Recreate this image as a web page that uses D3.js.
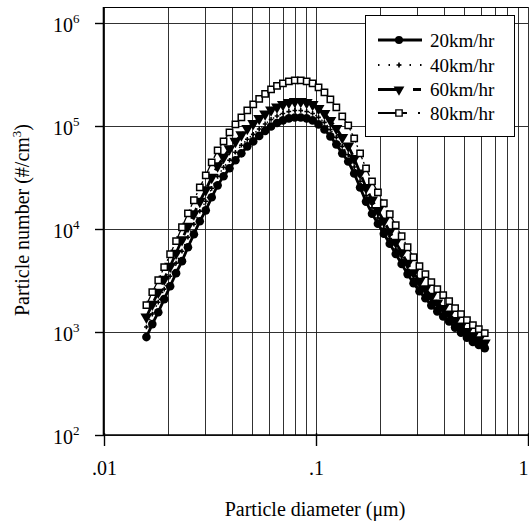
<!DOCTYPE html>
<html><head><meta charset="utf-8">
<script src="https://cdn.jsdelivr.net/npm/d3@7"></script>
<style>body{margin:0;background:#fff}</style>
</head><body>
<svg id="c" width="529" height="532"></svg>
<script>
// ---- data ----
const diameters = [0.01585,0.01690,0.01803,0.01923,0.02051,0.02188,0.02333,0.02489,0.02655,0.02831,
  0.03020,0.03221,0.03436,0.03664,0.03908,0.04169,0.04446,0.04742,0.05058,0.05395,
  0.05754,0.06138,0.06546,0.06982,0.07447,0.07943,0.08472,0.09036,0.09638,0.1028,
  0.1096,0.1169,0.1247,0.1330,0.1419,0.1514,0.1614,0.1722,0.1837,0.1959,
  0.2089,0.2228,0.2377,0.2535,0.2704,0.2884,0.3076,0.3281,0.3499,0.3733,
  0.3981,0.4246,0.4529,0.4831,0.5152,0.5495,0.5861,0.6252];
const n20 = [885,1183,1545,2068,2763,3702,4844,6613,8855,11840,
  15100,20210,26420,32330,38670,46260,54090,63210,70660,79880,
  89370,98760,106800,113100,118200,120800,120800,118200,113100,103400,
  92430,79010,66120,54060,45090,34400,25180,18360,14010,11180,
  8928,7136,5691,4542,3623,2957,2473,2109,1801,1572,
  1401,1253,1094,976,871,794,741,691];
const n40 = [1108,1481,1934,2589,3458,4633,6055,8266,11070,14790,
  18470,24720,32320,39550,46280,55370,64740,73970,82630,93410,
  104500,115500,124900,132200,138200,141300,141300,138200,132200,120900,
  108100,92390,77310,63210,52510,39890,28990,21050,15990,12700,
  10090,8016,6365,5056,4016,3263,2711,2307,1961,1704,
  1512,1343,1167,1036,921,836,778,723];
const n60 = [1385,1851,2417,3236,4322,5791,7828,10570,13990,18490,
  23900,31620,40900,49500,59830,70790,81840,94600,105800,118200,
  130700,142900,152800,161700,169000,172800,172800,169000,161700,147800,
  132200,113000,94560,77310,63940,48240,34890,25160,19040,15020,
  11890,9377,7411,5862,4624,3740,3087,2609,2208,1905,
  1684,1485,1285,1136,1003,906,836,774];
const n80 = [1810,2420,3160,4230,5650,7570,10350,14130,18920,25290,
  33050,44230,57810,70750,86500,103500,121000,141400,161700,182800,
  204500,226000,244500,258700,270400,276500,276500,270400,258700,236500,
  211500,180800,151300,123700,101100,75600,54080,38650,28910,22600,
  17690,13830,10810,8455,6610,5287,4325,3615,3025,2587,
  2261,1977,1691,1479,1294,1156,1057,967];
const seriesNames = ["20km/hr","40km/hr","60km/hr","80km/hr"];
const xTickValues = [0.01, 0.1, 1];
const xTickLabels = [".01", ".1", "1"];
const yTickValues = [1e2, 1e3, 1e4, 1e5, 1e6];
const yTickExponents = ["2","3","4","5","6"];

// ---- drawing ----
const svg = d3.select("#c");
const FONT = "'Liberation Serif','Times New Roman',serif";
const plotTop = 7, plotBottom = 435, plotLeft = 104, plotRight = 528;
const x = d3.scaleLog().domain([0.01, 1]).range([plotLeft, plotRight]);
const y = d3.scaleLog().domain([100, 1e6]).range([434.5, 23]);

svg.append("rect").attr("width",529).attr("height",532).attr("fill","#fff");

// vertical grid (all log ticks)
svg.append("g").selectAll("line").data(x.ticks()).join("line")
  .attr("x1", d => Math.round(x(d)) + 0.5).attr("x2", d => Math.round(x(d)) + 0.5)
  .attr("y1", plotTop).attr("y2", plotBottom)
  .attr("stroke", "#1a1a1a").attr("stroke-width", 0.9);
// horizontal grid (decades)
svg.append("g").selectAll("line").data(yTickValues).join("line")
  .attr("x1", plotLeft).attr("x2", plotRight)
  .attr("y1", d => Math.round(y(d)) + 0.5).attr("y2", d => Math.round(y(d)) + 0.5)
  .attr("stroke", "#1a1a1a").attr("stroke-width", 0.9);
// frame
svg.append("line").attr("x1",plotLeft).attr("x2",plotRight).attr("y1",plotTop+0.5).attr("y2",plotTop+0.5).attr("stroke","#000").attr("stroke-width",1);
svg.append("line").attr("x1",plotLeft-0.5).attr("x2",plotLeft-0.5).attr("y1",plotTop).attr("y2",plotBottom+1).attr("stroke","#000").attr("stroke-width",1.6);
svg.append("line").attr("x1",plotLeft-1).attr("x2",plotRight+1).attr("y1",plotBottom).attr("y2",plotBottom).attr("stroke","#000").attr("stroke-width",1.6);

// y ticks & labels
const yAxisG = svg.append("g");
yTickValues.forEach((v, i) => {
  const yy = Math.round(y(v)) + 0.5;
  yAxisG.append("line").attr("x1", 95).attr("x2", plotLeft).attr("y1", yy).attr("y2", yy)
    .attr("stroke", "#000").attr("stroke-width", 1.4);
  const t = yAxisG.append("text").attr("x", 53).attr("y", yy + 8)
    .attr("font-family", FONT).attr("font-size", 20).attr("fill", "#000");
  t.append("tspan").text("10");
  t.append("tspan").attr("font-size", 13).attr("dy", -9).text(yTickExponents[i]);
});
// x ticks & labels
const xAxisG = svg.append("g");
xTickValues.forEach((v, i) => {
  const xx = Math.round(x(v)) + 0.5;
  xAxisG.append("line").attr("x1", xx).attr("x2", xx).attr("y1", plotBottom - 2).attr("y2", 446)
    .attr("stroke", "#000").attr("stroke-width", 1.4);
  const last = i === xTickValues.length - 1;
  xAxisG.append("text").attr("x", last ? 528.5 : xx).attr("y", 475)
    .attr("text-anchor", last ? "end" : "middle")
    .attr("font-family", FONT).attr("font-size", 20).attr("fill", "#000").text(xTickLabels[i]);
});

// axis titles
svg.append("text").attr("x", 315).attr("y", 516).attr("text-anchor", "middle")
  .attr("font-family", FONT).attr("font-size", 20).attr("fill", "#000")
  .text("Particle diameter (\u03bcm)");
const yt = svg.append("text").attr("transform", "translate(29,220) rotate(-90)")
  .attr("text-anchor", "middle").attr("font-family", FONT).attr("font-size", 20).attr("fill", "#000");
yt.append("tspan").text("Particle number (#/cm");
yt.append("tspan").attr("font-size", 13).attr("dy", -8).text("3");
yt.append("tspan").attr("dy", 8).text(")");

// series
const series = [
  {name: seriesNames[1], vals: n40, dash: "1.5,6", width: 1.4, sym: d3.symbolCross, size: 12, fill: "#000", stroke: "none", rot: 0},
  {name: seriesNames[0], vals: n20, dash: null, width: 2.8, sym: d3.symbolCircle, size: 58, fill: "#000", stroke: "none", rot: 0},
  {name: seriesNames[2], vals: n60, dash: "12,6", width: 2.8, sym: d3.symbolTriangle, size: 62, fill: "#000", stroke: "none", rot: 180},
  {name: seriesNames[3], vals: n80, dash: "10,3,2,3", width: 1.3, sym: d3.symbolSquare, size: 40, fill: "#fff", stroke: "#000", rot: 0}
];
const line = d3.line().x(d => x(d[0])).y(d => y(d[1]));
series.forEach(s => {
  const pts = diameters.map((d, i) => [d, s.vals[i]]);
  const g = svg.append("g");
  const p = g.append("path").datum(pts).attr("d", line).attr("fill", "none")
    .attr("stroke", "#000").attr("stroke-width", s.width);
  if (s.dash) p.attr("stroke-dasharray", s.dash);
  g.selectAll("path.m").data(pts).join("path").attr("class", "m")
    .attr("d", d3.symbol().type(s.sym).size(s.size))
    .attr("transform", d => `translate(${x(d[0])},${y(d[1])}) rotate(${s.rot})`)
    .attr("fill", s.fill).attr("stroke", s.stroke).attr("stroke-width", 1.5);
});

// legend
const lg = svg.append("g");
lg.append("rect").attr("x", 365.5).attr("y", 15.5).attr("width", 149).attr("height", 121)
  .attr("fill", "#fff").attr("stroke", "#000").attr("stroke-width", 1);
const legendRows = [
  {name: seriesNames[0], cy: 40, dash: null, width: 3, sym: d3.symbolCircle, size: 50, fill: "#000", stroke: "none", rot: 0},
  {name: seriesNames[1], cy: 65, dash: "1.5,9", width: 2, sym: d3.symbolCross, size: 14, fill: "#000", stroke: "none", rot: 0},
  {name: seriesNames[2], cy: 89.5, dash: "19,16,8", width: 3, sym: d3.symbolTriangle, size: 50, fill: "#000", stroke: "none", rot: 180},
  {name: seriesNames[3], cy: 113, dash: "19,5,5,11,2", width: 2, sym: d3.symbolSquare, size: 40, fill: "#fff", stroke: "#000", rot: 0}
];
legendRows.forEach(r => {
  const l = lg.append("line").attr("x1", 378).attr("x2", 422).attr("y1", r.cy).attr("y2", r.cy)
    .attr("stroke", "#000").attr("stroke-width", r.width);
  if (r.dash) l.attr("stroke-dasharray", r.dash);
  lg.append("path").attr("d", d3.symbol().type(r.sym).size(r.size)())
    .attr("transform", `translate(399,${r.cy}) rotate(${r.rot})`)
    .attr("fill", r.fill).attr("stroke", r.stroke).attr("stroke-width", 1.4);
  lg.append("text").attr("x", 430).attr("y", r.cy + 6.5).attr("font-family", FONT)
    .attr("font-size", 19).attr("fill", "#000").text(r.name);
});
</script>
</body></html>
